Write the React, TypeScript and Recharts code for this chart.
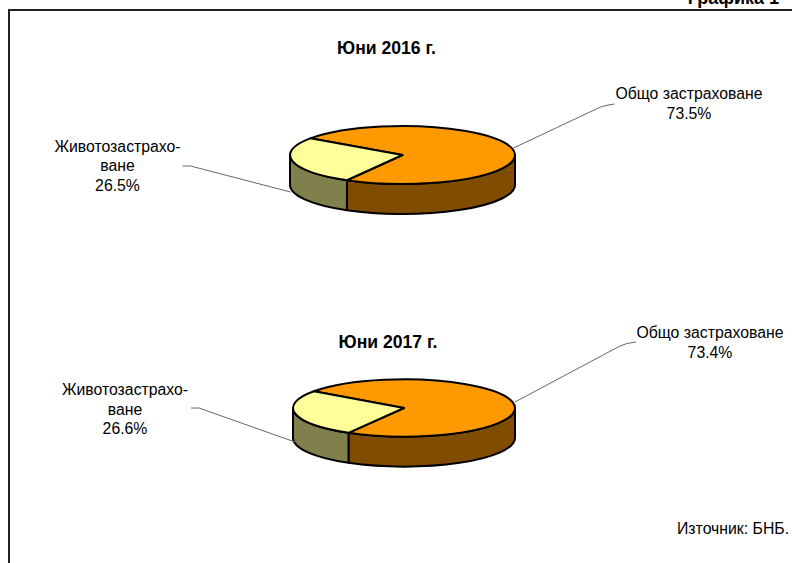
import { Pie, PieChart } from "recharts";

const categories = ["Общо застраховане", "Животозастрахо-\nване"];
const values2016 = [73.5, 26.5];
const values2017 = [73.4, 26.6];
const titles = ["Юни 2016 г.", "Юни 2017 г."];
const topColors = ["#ff9900", "#ffff99"];
const sideColors = ["#804d00", "#80804d"];

const FONT = '"Liberation Sans", Arial, sans-serif';
const SQUASH = 0.258;
const DEPTH = 30;

const toData = (values: number[]) =>
  values.map((value, i) => ({
    name: categories[i],
    value,
    fill: topColors[i],
    side: sideColors[i],
  }));

function Slice3D(props: any) {
  const { cx, cy, outerRadius: rx, startAngle, endAngle, payload } = props;
  const ry = rx * SQUASH;
  const px = (a: number) => cx + rx * Math.cos((a * Math.PI) / 180);
  const py = (a: number) => cy - ry * Math.sin((a * Math.PI) / 180);

  // only the front half of the rim can be seen
  const walls: string[] = [];
  [180, 540].forEach((from) => {
    const a0 = Math.max(startAngle, from);
    const a1 = Math.min(endAngle, from + 180);
    if (a1 > a0) {
      walls.push(
        `M${px(a0)},${py(a0)} A${rx},${ry} 0 0 0 ${px(a1)},${py(a1)} ` +
          `L${px(a1)},${py(a1) + DEPTH} A${rx},${ry} 0 0 1 ${px(a0)},${py(a0) + DEPTH} Z`
      );
    }
  });

  const large = endAngle - startAngle > 180 ? 1 : 0;
  const top = `M${cx},${cy} L${px(startAngle)},${py(startAngle)} A${rx},${ry} 0 ${large} 0 ${px(endAngle)},${py(endAngle)} Z`;

  return (
    <g>
      {walls.map((d) => (
        <path key={d} d={d} fill={payload.side} stroke="#000" strokeWidth={2} strokeLinejoin="round" />
      ))}
      <path d={top} fill={payload.fill} stroke="#000" strokeWidth={2} strokeLinejoin="round" />
    </g>
  );
}

// label boxes and leader lines, offset from each pie's centre
const layouts = [
  [
    { x: 286.5, ys: [-62, -42], line: "M111,-7 L198,-48 Q204,-50 212,-51" },
    { x: -285, ys: [-9, 10, 30], line: "M-220,11 L-212,11 L-112,37" },
  ],
  [
    { x: 306, ys: [-76, -56], line: "M111,-6 L216,-62 Q222,-65 232,-66" },
    { x: -279, ys: [-19, 1, 20], line: "M-213,0 L-205,0 L-109,34" },
  ],
];

const makeLabel = (chart: number) => (props: any) => {
  const { cx, cy, index, name, value } = props;
  const layout = layouts[chart][index];
  const lines = [...String(name).split("\n"), `${value.toFixed(1)}%`];
  return (
    <g key={index}>
      <path d={layout.line} transform={`translate(${cx},${cy})`} fill="none" stroke="#666" strokeWidth={1} />
      {lines.map((line, i) => (
        <text
          key={line}
          x={cx + layout.x}
          y={cy + layout.ys[i]}
          textAnchor="middle"
          dominantBaseline="central"
          fontFamily={FONT}
          fontSize={15.8}
          fill="#000"
        >
          {line}
        </text>
      ))}
    </g>
  );
};

export default function App() {
  return (
    <div style={{ position: "absolute", left: 0, top: 0, width: 792, height: 563, overflow: "hidden", background: "#fff" }}>
      <div style={{ position: "absolute", left: 8, top: 9, width: 800, height: 600, borderLeft: "2px solid #222", borderTop: "2px solid #222" }} />
      <div style={{ position: "absolute", right: 13, top: -12, fontFamily: FONT, fontWeight: "bold", fontSize: 18, lineHeight: "20px", whiteSpace: "nowrap" }}>
        Графика 1
      </div>
      <div style={{ position: "absolute", left: 677, top: 520, fontFamily: FONT, fontSize: 15.8, lineHeight: "18px", whiteSpace: "nowrap" }}>
        Източник: БНБ.
      </div>
      <div style={{ position: "absolute", left: 0, top: 0 }}>
        <PieChart width={792} height={563} margin={{ top: 0, right: 0, bottom: 0, left: 0 }}>
          <text x={386.5} y={48} textAnchor="middle" dominantBaseline="central" fontFamily={FONT} fontWeight="bold" fontSize={17.6}>
            {titles[0]}
          </text>
          <text x={388} y={342} textAnchor="middle" dominantBaseline="central" fontFamily={FONT} fontWeight="bold" fontSize={17.6}>
            {titles[1]}
          </text>
          <Pie
            data={toData(values2016)}
            dataKey="value"
            nameKey="name"
            cx={402.5}
            cy={155}
            outerRadius={112.5}
            startAngle={240.4}
            endAngle={600.4}
            shape={Slice3D}
            label={makeLabel(0)}
            labelLine={false}
            isAnimationActive={false}
          />
          <Pie
            data={toData(values2017)}
            dataKey="value"
            nameKey="name"
            cx={404}
            cy={408}
            outerRadius={111}
            startAngle={240}
            endAngle={600}
            shape={Slice3D}
            label={makeLabel(1)}
            labelLine={false}
            isAnimationActive={false}
          />
        </PieChart>
      </div>
    </div>
  );
}
